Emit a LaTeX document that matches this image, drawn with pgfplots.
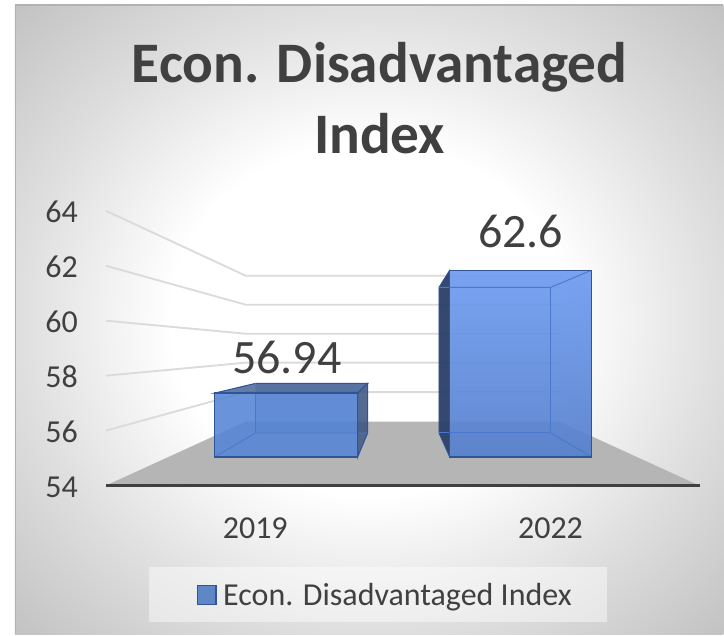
\documentclass[border=0pt]{standalone}
\usepackage{fontspec}
\setmainfont{Carlito}
\usepackage{pgfplots}
\pgfplotsset{compat=1.18}
\definecolor{txt}{HTML}{404040}
\definecolor{bgmid}{HTML}{DEDEDE}
\definecolor{bgcor}{HTML}{C2C2C2}
\definecolor{bgw}{HTML}{FFFFFF}
\definecolor{barline}{HTML}{2F5597}
\definecolor{barin}{HTML}{4A78CC}
\definecolor{barfront}{HTML}{5585D5}
\definecolor{bartop}{HTML}{6E9CF0}
\definecolor{barbot}{HTML}{5580CE}
\definecolor{barside}{HTML}{2B3F68}
\definecolor{lowside}{HTML}{3A5280}
\definecolor{lowtop}{HTML}{3F5C92}
\pgfdeclareradialshading{bgsh}{\pgfpoint{0bp}{0bp}}{color(0bp)=(bgw); color(14bp)=(bgw); color(25bp)=(bgmid); color(35.5bp)=(bgcor)}
\begin{document}
\begin{tikzpicture}[x=0.75pt,y=0.75pt]
% background
\begin{axis}[
  at={(0,0)}, anchor=south west,
  scale only axis, width=446.25pt, height=206.25pt,
  xmin=106, xmax=701, ymin=54, ymax=64,
  clip=false, hide axis,
]
\fill[white] (axis cs:0,71.673) rectangle (axis cs:724,48.582);
\shade[shading=bgsh] (axis cs:15,71.49) rectangle (axis cs:724,48.582);
\draw[color=black!30,line width=1pt] (axis cs:15.5,48.582) -- (axis cs:15.5,71.49) -- (axis cs:724,71.49);
\addplot[draw=none,fill=white,fill opacity=.45,forget plot] coordinates {(149,49.02)(608,49.02)(608,51.02)(149,51.02)} --cycle;
\end{axis}
% Axis A: left scale, walls, floor, categories
\begin{axis}[
  at={(0,0)}, anchor=south west,
  scale only axis, width=446.25pt, height=206.25pt,
  xmin=106, xmax=701, ymin=54, ymax=64,
  clip=false,
  axis line style={draw=none},
  tick style={draw=none},
  ytick={54,56,58,60,62,64},
  xtick={255.5,551}, xticklabels={2019,2022},
  ticklabel style={text=txt},
  yticklabel style={font=\fontsize{24}{28}\selectfont, xshift=-17.5pt, yshift=-1pt, /pgf/number format/assume math mode=true},
  xticklabel style={font=\fontsize{24}{28}\selectfont, yshift=-20.5pt},
]
\node[anchor=center,align=center,text=txt,font=\fontsize{43}{53.6}\selectfont\bfseries] at (axis cs:380,68.11) {Econ. Disadvantaged\\Index};
% floor
\addplot[draw=none,fill=black!29,forget plot] coordinates {(106,54)(246,56.327)(560,56.327)(700,54)} --cycle;
% gridlines
\foreach \v/\c in {64/61.636,62/60.582,60/59.527,58/58.473,56/57.400}{
  \edef\temp{\noexpand\addplot[color=black!14,line width=1.4pt,forget plot] coordinates {(106,\v)(246,\c)(562,\c)};}
  \temp
}
\addplot[color=txt,line width=2.4pt,forget plot] coordinates {(106,54)(701,54)};
\end{axis}
% Axis B: scale of the bars' front plane
\begin{axis}[
  at={(0,0)}, anchor=south west,
  scale only axis, width=446.25pt, height=206.25pt,
  xmin=106, xmax=701, ymin=52.679, ymax=65.340,
  clip=false, hide axis,
  legend style={at={(axis cs:196.5,47.64)},anchor=west,draw=none,fill=none,
    font=\fontsize{24}{28}\selectfont,text=txt,inner sep=0pt,
    /tikz/every odd column/.append style={column sep=3pt}},
  legend image code/.code={\draw[fill=barfront!90!black,draw=barline,line width=1pt] (0pt,-7pt) rectangle (14pt,7pt);},
]
% 2019
\addplot[draw=none,fill=barline,fill opacity=.3,forget plot] coordinates {(256,55.105)(256,57.389)(368,57.389)(368,55.105)} --cycle;
\addplot[draw=barline,line width=.8pt,fill=lowside,fill opacity=.8,forget plot] coordinates {(358,54)(358,56.94)(368,57.389)(368,55.105)} --cycle;
\addplot[draw=barline,line width=.8pt,fill=lowtop,fill opacity=.8,forget plot] coordinates {(215,56.94)(256,57.389)(368,57.389)(358,56.94)} --cycle;
\addplot[draw=barin,line width=.6pt,fill=barfront,fill opacity=.88] coordinates {(215,54)(215,56.94)(358,56.94)(358,54)} --cycle;
\addlegendentry{Econ. Disadvantaged Index}
\addplot[draw=barin,line width=.6pt,forget plot] coordinates {(215,54)(256,55.105)(368,55.105)};
\addplot[draw=barin,line width=.6pt,forget plot] coordinates {(256,55.105)(256,57.389)};
\addplot[draw=barline,line width=1pt,forget plot] coordinates {(215,54)(215,56.94)(358,56.94)(358,54)} --cycle;
% 2022
\addplot[draw=barline,line width=.6pt,fill=barside,fill opacity=.95,forget plot] coordinates {(439.3,55.105)(439.3,61.81)(450,62.6)(450,54)} --cycle;
\addplot[draw=none,top color=bartop,bottom color=barbot,fill opacity=.92,forget plot] coordinates {(450,54)(450,62.6)(592,62.6)(592,54)} --cycle;
\addplot[draw=barin,line width=.7pt,forget plot] coordinates {(439.3,61.81)(551,61.81)(592,62.6)};
\addplot[draw=barin,line width=.7pt,forget plot] coordinates {(551,61.81)(551,55.105)(592,54)};
\addplot[draw=barin,line width=.7pt,forget plot] coordinates {(439.3,55.105)(551,55.105)};
\addplot[draw=barline,line width=1pt,forget plot] coordinates {(450,54)(450,62.6)(592,62.6)(592,54)} --cycle;
% data labels
\node[text=txt,font=\fontsize{36}{40}\selectfont] at (axis cs:287,58.572) {56.94};
\node[text=txt,font=\fontsize{36}{40}\selectfont] at (axis cs:521,64.373) {62.6};
\end{axis}
\end{tikzpicture}
\end{document}
